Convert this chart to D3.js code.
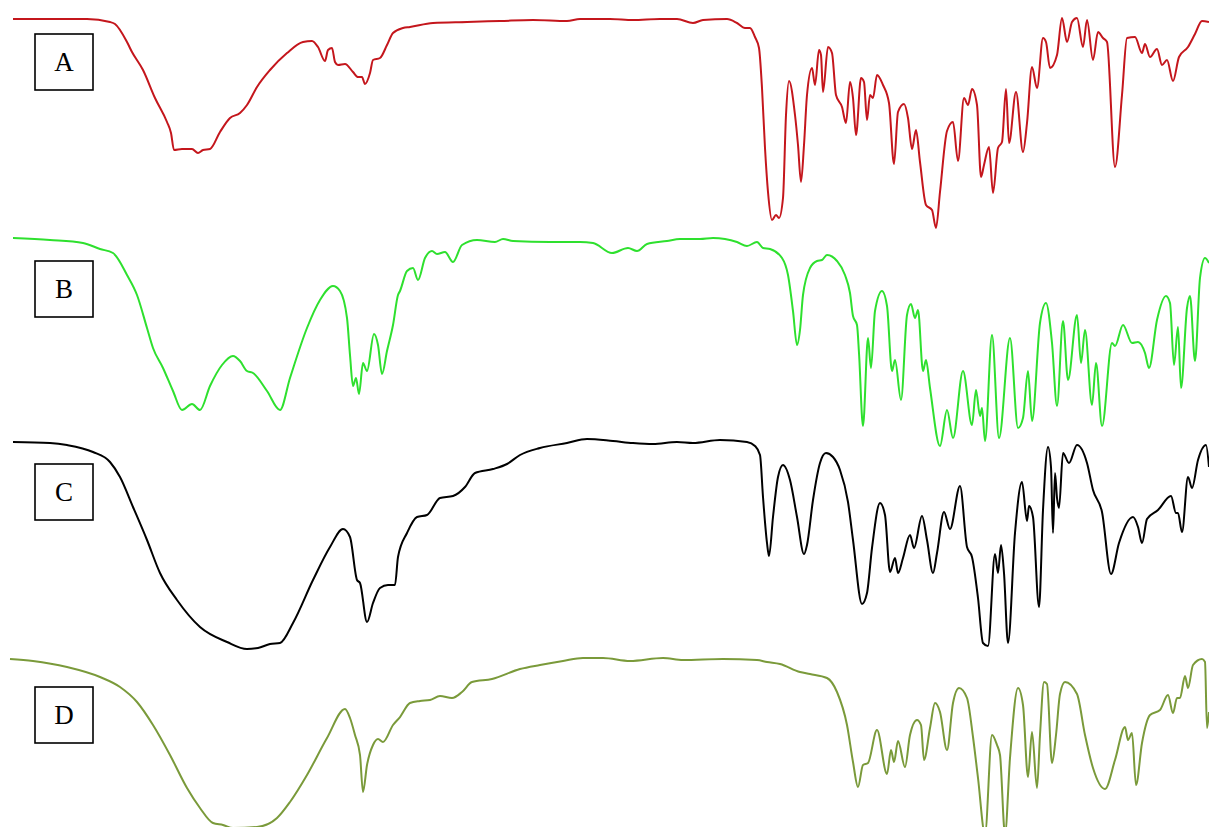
<!DOCTYPE html>
<html>
<head>
<meta charset="utf-8">
<script src="https://cdn.jsdelivr.net/npm/d3@7"></script>
<style>
  html, body { margin: 0; padding: 0; background: #fff; }
  svg { display: block; }
</style>
</head>
<body>
<svg id="chart" width="1209" height="827"></svg>
<script>
// FTIR spectra, stacked. Each point: [wavenumber (cm-1), relative transmittance]
const sampleLabels = ["A", "B", "C", "D"];
const sampleColors = ["#c4161c", "#2ee02e", "#000000", "#7a9a3a"];

const spectrumA = [
  [3991,106.5],[3931,106.5],[3829,106.5],[3769,106.5],[3700,105],[3685,104],[3649,95],[3634,90],
  [3601,81],[3565,67],[3529,55],[3517,49.5],[3508,41],[3484,41.5],[3454,41.5],[3436,39.5],
  [3421,41],[3400,41.5],[3370,50],[3340,57],[3310,59.5],[3289,63.5],[3259,72.5],[3220,81],
  [3169,89.5],[3121,95],[3094,95.5],[3076,92.5],[3055,85.5],[3046,91],[3034,92],[3025,85],
  [3016,83.5],[2995,84],[2971,80],[2956,77.5],[2944,77.5],[2935,74],[2920,79.5],[2911,86],
  [2890,87],[2869,93.5],[2851,99.5],[2821,102],[2800,102.5],[2731,104.5],[2629,105],[2530,105.5],
  [2431,106],[2329,105.5],[2290,106.5],[2200,106.5],[2131,106],[2050,106.5],[1999,106.5],[1951,104.5],
  [1921,106],[1849,106.5],[1819,104.5],[1795,102],[1780,102],[1765,97.5],[1753,92],[1744,72],
  [1735,42],[1726,20],[1714,6],[1702,8.5],[1693,7],[1681,17],[1672,58.5],[1663,75.5],
  [1645,58.5],[1636,43.5],[1627,25],[1618,43.5],[1609,68.5],[1594,82],[1585,73.5],[1573,91],
  [1567,88.5],[1561,70],[1546,92.5],[1534,89.5],[1522,68.5],[1504,62.5],[1492,54.5],[1480,75],
  [1471,67],[1462,48.5],[1447,77],[1438,75],[1429,56],[1420,68.5],[1411,67],[1399,78.5],
  [1381,73.5],[1363,64.5],[1348,34],[1336,60],[1318,64],[1306,57],[1294,41.5],[1282,51],
  [1270,35],[1252,13.5],[1234,11],[1222,2],[1210,20],[1189,50.5],[1171,55],[1156,35.5],
  [1138,67],[1126,63.5],[1114,71.5],[1099,63.5],[1087,27.5],[1078,33.5],[1063,42.5],[1051,19.5],
  [1036,42],[1024,45],[1012,71.5],[1003,44.5],[982,70],[961,40],[949,54.5],[934,82.5],
  [919,72],[901,97],[892,95],[880,82],[859,88.5],[844,107],[829,95],[814,105],
  [799,107],[781,92.5],[769,106],[751,86],[736,100],[721,97],[709,95],[685,32.5],
  [664,68.5],[649,97],[625,97.5],[604,89.5],[595,94],[580,87.5],[559,91.5],[544,83.5],
  [529,86],[511,75.5],[493,87.5],[466,92.5],[445,99],[424,105.5],[403,105]
];

const spectrumB = [
  [3991,102],[3880,101],[3781,99.5],[3730,96.5],[3691,94.5],[3649,83.5],[3619,73.5],[3589,57],
  [3571,47],[3541,37],[3511,25.5],[3484,16],[3454,19],[3430,16],[3400,28],[3364,38.5],
  [3331,43],[3310,40.5],[3289,35.5],[3271,34.5],[3229,25.5],[3190,16],[3160,32],[3109,57],
  [3070,71],[3031,78],[3010,75.5],[2989,62],[2980,43.5],[2971,28],[2962,32],[2953,24],
  [2941,39.5],[2929,35.5],[2908,54],[2896,48.5],[2884,34],[2869,45.5],[2851,58.5],[2836,73.5],
  [2830,75.5],[2809,85.5],[2791,87],[2776,81],[2755,92],[2734,95.5],[2719,94],[2695,95],
  [2671,90],[2644,98.5],[2599,101],[2545,100],[2521,101.5],[2491,100.5],[2380,100],[2290,100],
  [2251,99.5],[2194,94.5],[2146,97],[2119,95.5],[2089,99],[2029,100.5],[1990,101.5],[1930,101.5],
  [1891,102],[1819,100],[1789,98],[1759,100],[1741,97],[1720,96.5],[1684,92],[1666,83.5],
  [1651,65.5],[1639,48.5],[1630,56],[1621,73.5],[1600,87],[1579,90.5],[1564,91],[1549,93.5],
  [1519,90.5],[1495,83.5],[1480,74.5],[1471,63],[1459,58.5],[1453,44.5],[1441,8],[1426,52],
  [1417,37],[1405,65.5],[1384,75.5],[1369,68],[1354,35.5],[1345,41],[1327,21],[1309,63.5],
  [1297,69],[1285,62],[1276,66],[1261,35.5],[1252,41],[1240,27],[1210,-2],[1189,16],
  [1171,2],[1141,35.5],[1114,8.5],[1102,26],[1090,13],[1084,17],[1075,0.5],[1054,53.5],
  [1033,2],[1000,52],[976,7],[961,12],[946,35.5],[934,10.5],[910,59.5],[892,69.5],
  [874,49.5],[859,18],[841,60.5],[826,31],[799,63.5],[787,39.5],[775,56],[754,18.5],
  [742,39.5],[724,8],[694,49.5],[685,48],[661,58.5],[634,49.5],[616,50],[595,44.5],
  [583,37],[559,61],[532,73],[520,69.5],[508,38.5],[496,57.5],[487,27],[469,67],
  [460,73],[445,40.5],[430,82],[415,92],[403,89.5]
];

const spectrumC = [
  [3991,105],[3880,104.5],[3829,103.5],[3751,100],[3700,95],[3670,87.5],[3631,72.5],[3589,56],
  [3550,39.5],[3499,26],[3430,12.5],[3349,5],[3289,1.5],[3256,2],[3220,4],[3190,4.5],
  [3151,14.5],[3091,36],[3040,52.5],[3001,61.5],[2980,57.5],[2959,36],[2950,34.5],[2929,15],
  [2911,24.5],[2890,32],[2866,33.5],[2845,33.5],[2836,47.5],[2809,59.5],[2779,67.5],[2749,68.5],
  [2710,77],[2671,78],[2635,82.5],[2605,89.5],[2551,91.5],[2509,94],[2470,98.5],[2410,102],
  [2329,104.5],[2269,106.5],[2191,105.5],[2131,104.5],[2071,104],[1999,105],[1951,104.5],[1870,106],
  [1789,105],[1765,103],[1750,98.5],[1741,77.5],[1729,54.5],[1723,48],[1711,67.5],[1696,87.5],
  [1681,93.5],[1660,86],[1639,67.5],[1618,49],[1609,53.5],[1591,76],[1570,94.5],[1552,99.5],
  [1531,97.5],[1510,91],[1486,75],[1471,56],[1444,24],[1429,29.5],[1414,52],[1390,74.5],
  [1375,68.5],[1360,40],[1345,47],[1336,39.5],[1321,47],[1300,58.5],[1288,52],[1264,68],
  [1249,56],[1231,39.5],[1219,49.5],[1198,70],[1180,61.5],[1150,83],[1129,52.5],[1114,47.5],
  [1096,27],[1081,4.5],[1066,3],[1045,49],[1036,39.5],[1027,53.5],[1018,39.5],[1006,4.5],
  [985,59.5],[964,85],[949,65.5],[943,73],[931,67.5],[913,22.5],[901,71],[886,102.5],
  [877,92.5],[871,59.5],[865,89.5],[859,77],[853,72],[841,99.5],[823,94.5],[799,103.5],
  [769,94.5],[751,81],[724,70],[697,39],[673,54.5],[631,67.5],[616,62.5],[604,54.5],
  [589,66.5],[556,71],[517,78],[502,69.5],[496,69.5],[484,60],[466,87.5],[454,82],
  [436,96],[412,103.5],[403,92.5]
];

const spectrumD = [
  [4000,86.5],[3931,85.5],[3829,82.5],[3730,77.5],[3670,72.5],[3619,65],[3571,53.5],[3520,38.5],
  [3469,22],[3430,12],[3391,4.5],[3361,3.5],[3331,2],[3259,2.5],[3199,7],[3160,15],
  [3109,28.5],[3049,47],[2995,61.5],[2980,57],[2965,48.5],[2950,38.5],[2941,20],[2929,33.5],
  [2911,43.5],[2896,46.5],[2881,45],[2851,53.5],[2830,57.5],[2800,64.5],[2770,65.5],[2740,66],
  [2710,68],[2674,67],[2644,70],[2614,75],[2554,76.5],[2470,81.5],[2410,83.5],[2341,85.5],
  [2281,87],[2221,87],[2140,85.5],[2041,87],[1981,86],[1861,86.5],[1759,86],[1729,85],
  [1690,84],[1630,80],[1600,79],[1549,77],[1519,70],[1489,53.5],[1471,35],[1456,22.5],
  [1441,33.5],[1426,34.5],[1399,51],[1369,29],[1357,41],[1348,35],[1336,45.5],[1315,32.5],
  [1300,48.5],[1279,56],[1267,53.5],[1258,36],[1240,52],[1225,64.5],[1210,60],[1189,41],
  [1171,64.5],[1153,72],[1129,67],[1111,47.5],[1096,27],[1075,-1],[1054,48.5],[1039,43.5],
  [1030,38.5],[1015,-1],[1000,37],[976,72],[961,63.5],[946,27.5],[934,50],[919,22],
  [910,48.5],[898,75],[889,74],[874,34.5],[862,48.5],[850,69],[835,75],[799,69],
  [775,48.5],[751,32],[715,21.5],[685,36],[655,52.5],[646,46],[634,49.5],[622,23.5],
  [604,44.5],[580,58.5],[550,61],[526,68.5],[511,59.5],[499,67],[490,67],[475,78],
  [466,72],[451,83.5],[424,86.5],[415,85],[409,52],[403,60]
];

const spectra = [spectrumA, spectrumB, spectrumC, spectrumD];

// Layout: each spectrum gets its own 200px strip; value 0 sits at the strip's baseline
const width = 1209, height = 827;
const stripBase = [232, 442, 652, 832];
const stripSpan = 200;
const boxTop = [34, 261, 464, 687];

const svg = d3.select("#chart");

const x = d3.scaleLinear().domain([4000, 400]).range([10, 1210]);

spectra.forEach((data, i) => {
  const y = d3.scaleLinear().domain([0, 100]).range([stripBase[i], stripBase[i] - stripSpan]);
  const line = d3.line()
    .x(d => x(d[0]))
    .y(d => y(d[1]))
    .curve(d3.curveMonotoneX);

  svg.append("path")
    .datum(data)
    .attr("fill", "none")
    .attr("stroke", sampleColors[i])
    .attr("stroke-width", 2)
    .attr("stroke-linejoin", "round")
    .attr("d", line);
});

// Sample labels in framed boxes
const boxes = svg.selectAll("g.label")
  .data(sampleLabels)
  .join("g")
  .attr("class", "label")
  .attr("transform", (d, i) => `translate(35,${boxTop[i]})`);

boxes.append("rect")
  .attr("width", 58)
  .attr("height", 56)
  .attr("fill", "#fff")
  .attr("stroke", "#000")
  .attr("stroke-width", 1.6);

boxes.append("text")
  .attr("x", 29)
  .attr("y", 28)
  .attr("text-anchor", "middle")
  .attr("dominant-baseline", "central")
  .attr("font-family", "'Liberation Serif', 'Times New Roman', serif")
  .attr("font-size", 27)
  .attr("fill", "#000")
  .text(d => d);
</script>
</body>
</html>
